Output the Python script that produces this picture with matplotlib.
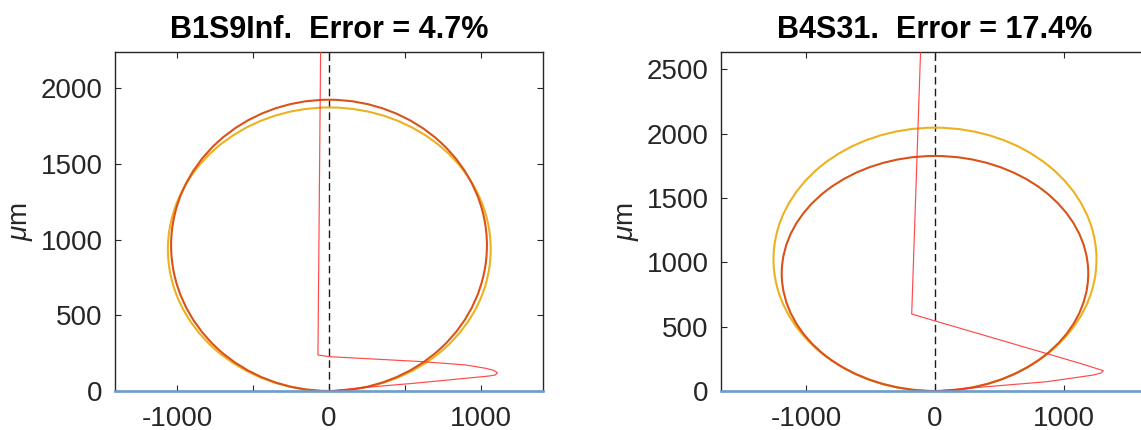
import numpy as np
import matplotlib.pyplot as plt
from matplotlib.patches import Ellipse

plt.rcParams['font.family'] = ['Liberation Sans', 'DejaVu Sans']
plt.rcParams['mathtext.fontset'] = 'custom'
plt.rcParams['mathtext.rm'] = 'Liberation Sans'
plt.rcParams['mathtext.it'] = 'Liberation Sans:italic'

# panel titles
titles = ['B1S9Inf.  Error = 4.7%', 'B4S31.  Error = 17.4%']

# axis ranges (um)
xlims = [(-1412, 1412), (-1663, 1663)]
ylims = [(0, 2240), (0, 2634)]
xticks = [[-1000, -500, 0, 500, 1000], [-1000, 0, 1000]]
yticks = [[0, 500, 1000, 1500, 2000], [0, 500, 1000, 1500, 2000, 2500]]

# contours: centre (x, y) and full width / height, um
orange_center = [(0, 962), (0, 913)]
orange_size = [(2084, 1925), (2382, 1826)]
yellow_center = [(2, 937), (0, 1023)]
yellow_size = [(2130, 1873), (2510, 2046)]

# velocity profile traces
prof_x = [
    [-55, -73, 0, 616, 902, 1034, 1085, 1111, 1098, 1056, 902, 550, 220, 0],
    [-110, -181, -5, 1127, 1308, 1290, 1230, 868, 350, 0],
]
prof_y = [
    [2300, 238, 227, 194, 172, 150, 137, 121, 106, 99, 84, 50, 22, 0],
    [2700, 598, 546, 215, 158, 140, 124, 72, 29, 0],
]

c_orange = '#D95319'
c_yellow = '#EDB120'
c_blue = '#6a9fd3'
c_axes = '#262626'

fig = plt.figure(figsize=(11.41, 4.30), dpi=100)
positions = [[0.1008, 0.0907, 0.3751, 0.7884], [0.6319, 0.0907, 0.3751, 0.7884]]

for i in range(2):
    ax = fig.add_axes(positions[i])
    x0, x1 = xlims[i]
    ax.plot([0, 0], [0, ylims[i][1]], color='#1a1a1a', lw=1.0,
            dashes=(5.5, 3), zorder=3)
    ax.add_patch(Ellipse(yellow_center[i], *yellow_size[i], fill=False,
                         ec=c_yellow, lw=1.5, zorder=4))
    ax.add_patch(Ellipse(orange_center[i], *orange_size[i], fill=False,
                         ec=c_orange, lw=1.5, zorder=5))
    ax.plot(prof_x[i], prof_y[i], color='#ff2a2a', lw=0.85, alpha=0.85, zorder=6)
    # zero line drawn over the bottom spine
    ax.plot([x0, x1], [0, 0], color=c_blue, lw=1.8, zorder=7, clip_on=False)

    ax.set_xlim(xlims[i])
    ax.set_ylim(ylims[i])
    ax.set_xticks(xticks[i])
    ax.set_xticklabels([str(t) if t % 1000 == 0 else '' for t in xticks[i]])
    ax.set_yticks(yticks[i])
    ax.tick_params(direction='in', top=True, right=True, length=4, width=0.8,
                   labelsize=20, colors=c_axes, labelcolor=c_axes)
    ax.tick_params(axis='x', pad=11)
    ax.tick_params(axis='y', pad=9)
    for s in ax.spines.values():
        s.set_color(c_axes)
        s.set_linewidth(1.0)
    ax.set_ylabel(r'$\mu$m', fontsize=20, color=c_axes, labelpad=4)
    ax.set_title(titles[i], fontsize=22, fontweight='bold', pad=10)

fig.savefig('out.png', dpi=100)
